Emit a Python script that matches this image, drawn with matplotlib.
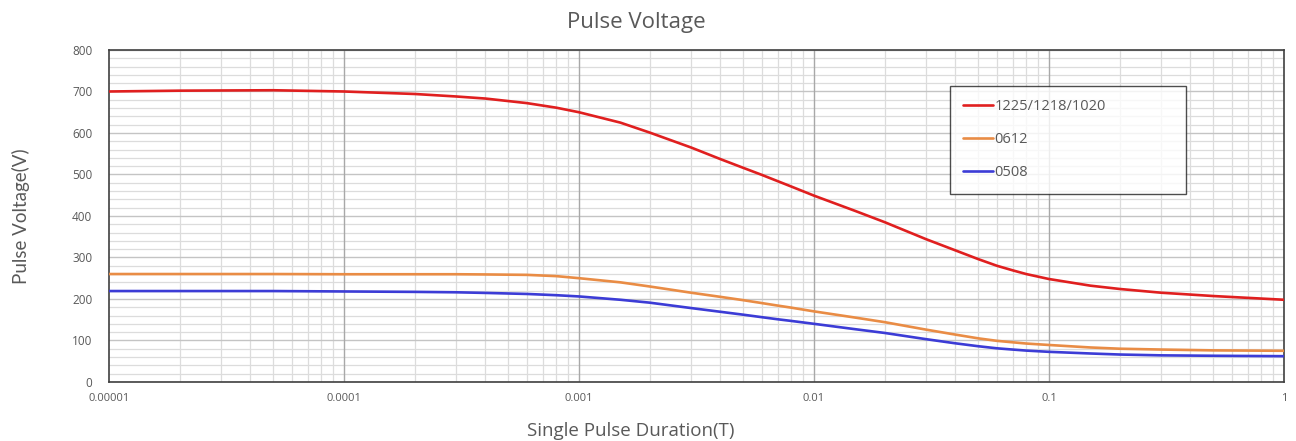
import matplotlib
matplotlib.use("Agg")
import matplotlib.pyplot as plt
from matplotlib.ticker import FixedLocator, FixedFormatter, LogLocator, MultipleLocator

# values (pulse duration in T, voltage in V)
duration = [1e-5, 2e-5, 5e-5, 1e-4, 2e-4, 3e-4, 4e-4, 6e-4, 8e-4, 1e-3,
            1.5e-3, 2e-3, 3e-3, 4e-3, 5e-3, 6e-3, 7e-3, 8e-3, 1e-2,
            1.5e-2, 2e-2, 3e-2, 4e-2, 5e-2, 6e-2, 7e-2, 8e-2, 1e-1,
            1.5e-1, 2e-1, 3e-1, 5e-1, 1]
v_1225 = [700, 702, 703, 700, 694, 688, 683, 672, 661, 650,
          625, 601, 565, 537, 516, 499, 484, 471, 449,
          412, 385, 344, 317, 296, 280, 269, 260, 248,
          232, 224, 215, 207, 198]
v_0612 = [260, 260, 260, 259.5, 259.5, 259.5, 259, 258, 255, 250,
          240, 230, 215, 205, 197, 190, 184, 179, 170,
          155, 144, 126, 114, 105, 99, 95.5, 92.5, 89,
          83, 80, 78, 76, 75]
v_0508 = [219, 219, 219, 218, 217, 216, 214.5, 212, 209, 206,
          198, 191, 178, 169, 162, 156, 151, 147, 140,
          127, 118, 103, 93, 86, 81, 78, 75.5, 72.5,
          68.5, 66, 64, 63, 62]

series_names = ["1225/1218/1020", "0612", "0508"]
series_colors = ["#e01f1f", "#e98c45", "#3c3cd6"]

x_ticks = [1e-5, 1e-4, 1e-3, 1e-2, 1e-1, 1]
x_tick_labels = ["0.00001", "0.0001", "0.001", "0.01", "0.1", "1"]

text_gray = "#595959"

fig = plt.figure(figsize=(12.96, 4.41), dpi=100)
ax = fig.add_axes([0.0841, 0.134, 0.9066, 0.7526])

for vals, name, col in zip([v_1225, v_0612, v_0508], series_names, series_colors):
    ax.plot(duration, vals, color=col, lw=1.9, label=name,
            solid_capstyle="round", solid_joinstyle="round", zorder=3)

ax.set_xscale("log")
ax.set_xlim(1e-5, 1)
ax.set_ylim(0, 800)

ax.xaxis.set_major_locator(FixedLocator(x_ticks))
ax.xaxis.set_major_formatter(FixedFormatter(x_tick_labels))
ax.xaxis.set_minor_locator(LogLocator(base=10, subs=range(2, 10)))
ax.yaxis.set_major_locator(MultipleLocator(100))
ax.yaxis.set_minor_locator(MultipleLocator(20))

ax.set_axisbelow(True)
ax.grid(which="minor", axis="both", color="#dcdcdc", lw=0.9)
ax.grid(which="major", axis="y", color="#c4c4c4", lw=1.0)
# decade lines drawn on top of the fine grid so they stay solid
for xt in x_ticks[1:-1]:
    ax.axvline(xt, color="#a8a8a8", lw=1.0, zorder=1.5)

ax.tick_params(which="both", length=0)
ax.tick_params(axis="x", pad=8, labelsize=8, labelcolor=text_gray)
ax.tick_params(axis="y", pad=12, labelsize=8.5, labelcolor=text_gray)
for lab in ax.get_xticklabels() + ax.get_yticklabels():
    lab.set_family("Open Sans")

for s in ax.spines.values():
    s.set_color("#404040")
    s.set_linewidth(1.2)

fig.text(0.491, 0.95, "Pulse Voltage", ha="center", va="center",
         fontsize=16, color=text_gray, family="Open Sans")
fig.text(0.487, 0.023, "Single Pulse Duration(T)", ha="center", va="center",
         fontsize=13.5, color=text_gray, family="Open Sans")
fig.text(0.016, 0.51, "Pulse Voltage(V)", ha="center", va="center", rotation=90,
         fontsize=13.5, color=text_gray, family="Lato")

leg = ax.legend(loc="upper left", bbox_to_anchor=(0.716, 0.892, 0.201, 0.0),
                mode="expand", borderaxespad=0, frameon=True, fancybox=False,
                handlelength=2.0, handletextpad=0.15, labelspacing=1.25,
                borderpad=0.9,
                prop={"family": "Open Sans", "size": 10.5})
leg.get_frame().set_edgecolor("#202020")
leg.get_frame().set_linewidth(1.0)
for t in leg.get_texts():
    t.set_color(text_gray)

fig.savefig("out.png", dpi=100)
